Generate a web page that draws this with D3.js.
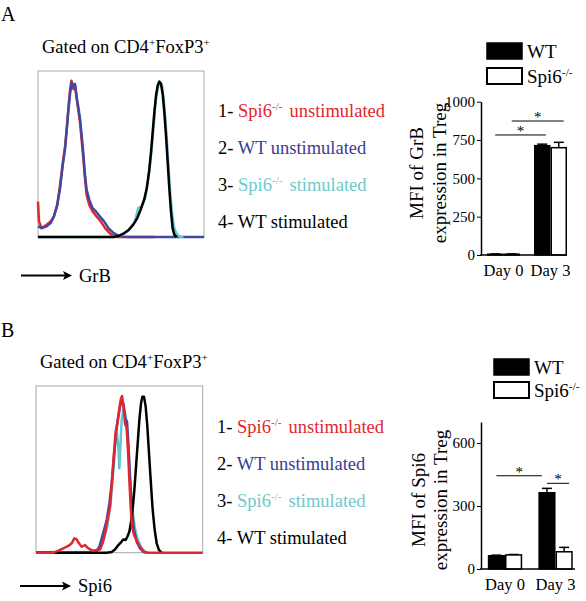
<!DOCTYPE html>
<html><head><meta charset="utf-8">
<script src="https://cdn.jsdelivr.net/npm/d3@7"></script>
<style>
body{margin:0;background:#fff;}
svg{font-family:"Liberation Serif","Times New Roman",serif;}
</style></head>
<body><svg id="c" width="586" height="601"></svg>
<script>
// ---------- DATA ----------
const groups = ["Day 0", "Day 3"];
const seriesNames = ["WT", "Spi6"];
const grbWT = [5, 713], grbWTerr = [2, 10];
const grbKO = [5, 700], grbKOerr = [2, 35];
const spiWT = [63, 363], spiWTerr = [3, 21];
const spiKO = [67, 82], spiKOerr = [2, 21];
const grbTicks = [0, 250, 500, 750, 1000];
const spiTicks = [0, 300, 600];

// histogram A (GrB): [channel, % of max]
const histA_red = [[0,22.7],[6,10],[22,5.7],[52,7.9],[76,10],[96,13.2],[116,20.6],[133,33.4],[149,47.2],[163,57.8],[173,69.5],[183,82.3],[193,94],[201,100.3],[213,95],[223,97.2],[233,88.7],[243,81.2],[253,73.8],[263,62.1],[273,50.4],[283,37.6],[293,27],[309,20.6],[329,16.4],[353,13.2],[378,10],[404,5.7],[430,2.6],[454,0.6],[474,0],[700,0]];
const histA_blue = [[0,6.8],[22,5.7],[52,6.8],[76,8.9],[96,13.2],[116,20.6],[133,31.3],[149,46.1],[163,56.8],[173,68.5],[183,81.2],[193,91.8],[203,99.3],[213,96.7],[223,98.2],[233,89.7],[243,83.3],[253,75.9],[263,65.3],[273,53.6],[283,39.8],[293,30.2],[309,23.8],[329,18.5],[349,16.4],[373,13.2],[398,10],[424,5.7],[454,2.6],[484,0.9],[514,0.2],[540,0],[1000,0]];
const histA_cyan = [[0,0],[464,0],[494,0.9],[524,2.6],[554,5.3],[584,10],[604,18.5],[624,19.6],[645,24.9],[659,33.4],[673,44],[685,56.8],[695,69.5],[705,82.3],[715,91.8],[727,98.2],[737,99.3],[747,97.2],[757,88.7],[767,75.9],[777,61],[787,44],[797,27],[809,14.2],[821,5.7],[835,1.9],[855,0.2],[876,0]];
const histA_black = [[0,0],[454,0],[484,0.6],[514,2.1],[544,4.3],[574,7.9],[598,12.1],[618,17.4],[639,23.8],[655,31.3],[669,41.9],[681,54.6],[691,67.4],[701,80.1],[711,90.8],[721,97.2],[731,99.7],[741,98.2],[751,91.8],[761,80.1],[771,65.3],[781,48.3],[791,31.3],[801,16.4],[811,5.7],[821,1.5],[835,0]];

// histogram B (Spi6)
const histB_red = [[0,0],[104,0],[134,1.3],[164,2.8],[194,4.3],[214,6],[230,9.2],[244,8.5],[258,6],[274,3.8],[294,4.9],[314,2.8],[340,1.3],[364,1.7],[384,2.1],[400,6],[414,12.4],[428,20.9],[444,29.4],[456,46.4],[466,61.3],[478,77.3],[490,83.7],[500,92.2],[508,97.6],[516,100.1],[524,94.4],[534,82.6],[544,79.4],[552,65.6],[560,46.4],[568,29.4],[576,16.6],[588,11.3],[604,7.7],[624,3.8],[644,0.9],[664,0],[1000,0]];
const histB_blue = [[0,0],[344,0],[364,1.3],[380,3.8],[394,9.2],[408,14.5],[424,20.9],[440,31.5],[454,44.3],[466,59.2],[478,74.1],[490,84.8],[504,93.3],[516,97.6],[526,94.4],[536,85.8],[546,83.7],[554,69.9],[564,48.6],[574,29.4],[588,14.5],[604,7],[624,2.8],[644,0.6],[664,0]];
const histB_cyan = [[0,0],[164,0],[244,0.4],[324,0.6],[364,1.3],[388,3.8],[408,9.2],[428,16.6],[448,31.5],[464,52.8],[476,69.9],[486,76.3],[494,67.7],[500,53.9],[506,67.7],[514,84.8],[524,92.2],[534,89],[544,80.5],[554,65.6],[564,46.4],[576,29.4],[592,16.6],[608,9.2],[628,3.8],[654,0.6],[674,0]];
const histB_black = [[0,0],[424,0],[454,0.4],[474,2.1],[494,4.9],[508,6.4],[524,8.5],[538,8.1],[548,10.2],[560,13.4],[570,19.8],[580,28.3],[590,40],[600,55],[610,69.9],[620,84.8],[630,95.4],[638,99.7],[648,99.7],[658,93.3],[668,80.5],[678,63.5],[688,46.4],[700,27.3],[712,14.5],[724,6],[738,1.7],[754,0]];

// ---------- STYLE ----------
const RED = "#e3262d", BLUE = "#3d4aa3", CYAN = "#63c7d2", BLACK = "#000";
const svg = d3.select("#c");

function supText(sel, parts) {
  let raised = false;
  parts.forEach(p => {
    const ts = sel.append("tspan").attr("fill", p.fill || null).text(p.t);
    if (p.sup) { ts.attr("dy", -7).attr("font-size", "0.6em"); raised = true; }
    else {
      if (raised) { ts.attr("dy", 7); raised = false; }
      if (p.dx) ts.attr("dx", p.dx);
    }
  });
}

function drawHist(cfg) {
  const x = d3.scaleLinear().domain([0, 1000]).range([cfg.x0, cfg.x1]);
  const y = d3.scaleLinear().domain([0, 106.5]).range([cfg.y1, cfg.y0]);
  const g = svg.append("g");
  g.append("rect").attr("x", cfg.x0).attr("y", cfg.y0).attr("width", cfg.x1 - cfg.x0).attr("height", cfg.y1 - cfg.y0)
    .attr("fill", "none").attr("stroke", "#a8a8a8").attr("stroke-width", 1);
  const line = d3.line().x(d => x(d[0])).y(d => y(d[1]));
  cfg.curves.forEach(c => {
    g.append("path").attr("d", line(c.data)).attr("fill", "none").attr("stroke", c.color)
      .attr("stroke-width", 2.5).attr("stroke-linejoin", "round");
  });
  const t = svg.append("text").attr("x", cfg.hx).attr("y", cfg.hy).attr("font-size", 18.5);
  supText(t, [{t: "Gated on CD4"}, {t: "+", sup: true}, {t: "FoxP3"}, {t: "+", sup: true}]);
  const items = [
    [{t: "1- "}, {t: "Spi6", fill: RED}, {t: "-/-", sup: true, fill: RED}, {t: "unstimulated", fill: RED, dx: 7}],
    [{t: "2- "}, {t: "WT unstimulated", fill: "#3b3d94"}],
    [{t: "3- "}, {t: "Spi6", fill: "#6fc9cb"}, {t: "-/-", sup: true, fill: "#6fc9cb"}, {t: "stimulated", fill: "#6fc9cb", dx: 7}],
    [{t: "4- WT stimulated"}]
  ];
  items.forEach((it, i) => {
    const tt = svg.append("text").attr("x", cfg.lx).attr("y", cfg.ly + i * 37).attr("font-size", 18.5);
    supText(tt, it);
  });
  svg.append("line").attr("x1", cfg.ax).attr("x2", cfg.ax + 46).attr("y1", cfg.ay).attr("y2", cfg.ay)
    .attr("stroke", "#000").attr("stroke-width", 1.8);
  svg.append("path").attr("d", `M${cfg.ax + 51},${cfg.ay} L${cfg.ax + 42},${cfg.ay - 4.5} L${cfg.ax + 44},${cfg.ay} L${cfg.ax + 42},${cfg.ay + 4.5} Z`).attr("fill", "#000");
  svg.append("text").attr("x", cfg.ax + 58).attr("y", cfg.ay + 6).attr("font-size", 18.5).text(cfg.marker);
}

function drawBar(cfg) {
  const x = d3.scaleBand().domain(groups).range([cfg.xa, cfg.xb]).paddingInner(cfg.pi).paddingOuter(cfg.po).align(cfg.align);
  const xs = d3.scaleBand().domain(seriesNames).range([0, x.bandwidth()]);
  const y = d3.scaleLinear().domain([0, cfg.max]).range([cfg.yb, cfg.yt]);
  const g = svg.append("g");
  const series = [
    {name: "WT", vals: cfg.wt, err: cfg.wtErr, fill: "#000"},
    {name: "Spi6", vals: cfg.ko, err: cfg.koErr, fill: "#fff"}
  ];
  series.forEach(s => {
    groups.forEach((gname, i) => {
      const bx = x(gname) + xs(s.name), bw = xs.bandwidth();
      const top = y(s.vals[i] + s.err[i]);
      g.append("line").attr("x1", bx + bw / 2).attr("x2", bx + bw / 2).attr("y1", y(s.vals[i])).attr("y2", top).attr("stroke", "#000").attr("stroke-width", 1.5);
      g.append("line").attr("x1", bx + bw / 2 - 5).attr("x2", bx + bw / 2 + 5).attr("y1", top).attr("y2", top).attr("stroke", "#000").attr("stroke-width", 1.5);
      g.append("rect").attr("x", bx + 0.75).attr("y", y(s.vals[i])).attr("width", bw - 1.5).attr("height", y(0) - y(s.vals[i]))
        .attr("fill", s.fill).attr("stroke", "#000").attr("stroke-width", 1.5);
    });
  });
  const ya = g.append("g").attr("transform", `translate(${cfg.xa},0)`)
    .call(d3.axisLeft(y).tickValues(cfg.ticks).tickFormat(d3.format("d")).tickSize(4).tickPadding(2).tickSizeOuter(0));
  ya.select(".domain").attr("stroke-width", 1.5);
  ya.selectAll("text").attr("font-size", 15).attr("font-family", "Liberation Serif").attr("fill", "#000");
  g.append("line").attr("x1", cfg.xa - 0.75).attr("x2", cfg.xend).attr("y1", y(0)).attr("y2", y(0)).attr("stroke", "#000").attr("stroke-width", 1.5);
  groups.forEach(gn => {
    g.append("text").attr("x", x(gn) + x.bandwidth() / 2).attr("y", y(0) + 21).attr("text-anchor", "middle").attr("font-size", 16.5).text(gn);
  });
  [[cfg.label1, cfg.lx1], ["expression in Treg", cfg.lx2]].forEach(([txt, lx]) => {
    g.append("text").attr("transform", `translate(${lx},${cfg.labelY}) rotate(-90)`).attr("text-anchor", "middle")
      .attr("dominant-baseline", "central").attr("font-size", 19).text(txt);
  });
  cfg.sig.forEach(s => {
    const x1 = x(s.a[0]) + xs(s.a[1]) + xs.bandwidth() / 2 + (s.o1 || 0);
    const x2 = x(s.b[0]) + xs(s.b[1]) + xs.bandwidth() / 2 + (s.o2 || 0);
    g.append("line").attr("x1", x1).attr("x2", x2).attr("y1", y(s.v)).attr("y2", y(s.v)).attr("stroke", "#000").attr("stroke-width", 1);
    g.append("text").attr("x", (x1 + x2) / 2).attr("y", y(s.v) + 1).attr("text-anchor", "middle").attr("font-size", 15).text("*");
  });
  const lg = svg.append("g");
  lg.append("rect").attr("x", cfg.lgx).attr("y", cfg.lgy).attr("width", cfg.lgw).attr("height", 16).attr("fill", "#000").attr("stroke", "#000").attr("stroke-width", 1.5);
  lg.append("rect").attr("x", cfg.lgx).attr("y", cfg.lgy + cfg.lgd).attr("width", cfg.lgw).attr("height", 16).attr("fill", "#fff").attr("stroke", "#000").attr("stroke-width", 2);
  lg.append("text").attr("x", cfg.lgx + cfg.lgw + 5).attr("y", cfg.lgy + 15).attr("font-size", 19).text("WT");
  const t2 = lg.append("text").attr("x", cfg.lgx + cfg.lgw + 5).attr("y", cfg.lgy + cfg.lgd + 15).attr("font-size", 19);
  supText(t2, [{t: "Spi6"}, {t: "-/-", sup: true}]);
}

svg.append("text").attr("x", 1).attr("y", 21).attr("font-size", 20).text("A");
svg.append("text").attr("x", 1).attr("y", 337).attr("font-size", 20).text("B");

drawHist({x0: 38, x1: 204, y0: 71, y1: 237, hx: 42, hy: 53, lx: 218, ly: 117, ax: 21, ay: 275.5, marker: "GrB",
  curves: [{data: histA_red, color: RED}, {data: histA_blue, color: BLUE}, {data: histA_cyan, color: CYAN}, {data: histA_black, color: BLACK}]});
drawHist({x0: 36, x1: 202.7, y0: 386, y1: 552.7, hx: 40, hy: 368, lx: 217, ly: 433, ax: 20, ay: 586, marker: "Spi6",
  curves: [{data: histB_cyan, color: CYAN}, {data: histB_blue, color: BLUE}, {data: histB_black, color: BLACK}, {data: histB_red, color: RED}]});

drawBar({xa: 481, xb: 567, xend: 567, pi: 0.298, po: 0.064, align: 1, max: 1000, yb: 255, yt: 101.7, ticks: grbTicks,
  wt: grbWT, wtErr: grbWTerr, ko: grbKO, koErr: grbKOerr, label1: "MFI of GrB", lx1: 416, lx2: 439, labelY: 173,
  sig: [{a: ["Day 0", "WT"], b: ["Day 3", "WT"], v: 783, o2: 3.5}, {a: ["Day 0", "Spi6"], b: ["Day 3", "Spi6"], v: 874, o2: 5}],
  lgx: 487, lgy: 43, lgw: 35, lgd: 25});
drawBar({xa: 481, xb: 575, xend: 575, pi: 0.32, po: 0.09, align: 0.75, max: 700, yb: 569, yt: 422, ticks: spiTicks,
  wt: spiWT, wtErr: spiWTerr, ko: spiKO, koErr: spiKOerr, label1: "MFI of Spi6", lx1: 418, lx2: 440, labelY: 500,
  sig: [{a: ["Day 0", "WT"], b: ["Day 3", "WT"], v: 444, o2: -5}, {a: ["Day 3", "WT"], b: ["Day 3", "Spi6"], v: 408, o1: 0, o2: 5}],
  lgx: 494, lgy: 359, lgw: 35, lgd: 23});
</script></body></html>
